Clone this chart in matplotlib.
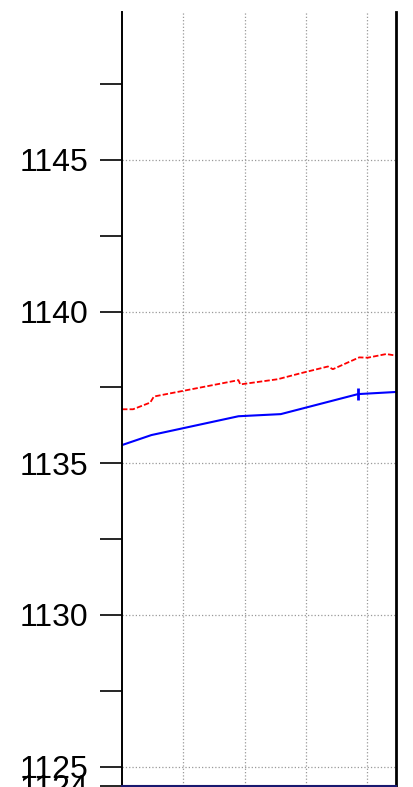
import numpy as np
import matplotlib.pyplot as plt

plt.rcParams['font.family'] = ['Liberation Sans', 'DejaVu Sans']

# data
blue_x = [0.0, 0.48, 1.90, 2.59, 3.85, 4.47]
blue_y = [1135.60, 1135.93, 1136.55, 1136.62, 1137.28, 1137.35]
marker_x = [3.85]
marker_y = [1137.28]

red_x = [0.0, 0.18, 0.46, 0.52, 1.90, 1.93, 2.54, 2.92, 3.36, 3.44, 3.87, 4.01, 4.31, 4.47]
red_y = [1136.78, 1136.78, 1137.00, 1137.20, 1137.74, 1137.60, 1137.77, 1137.97,
         1138.19, 1138.10, 1138.49, 1138.48, 1138.60, 1138.55]

ymin, ymax = 1124.37, 1149.88
major = [1125, 1130, 1135, 1140, 1145]
minor = [1127.5, 1132.5, 1137.5, 1142.5, 1147.5]

fig = plt.figure(figsize=(4.14, 7.87), dpi=100)
ax = fig.add_axes([122/414, 1.2/787, (396-122)/414, (786-12)/787])

ax.plot(red_x, red_y, color='red', lw=1.3, dashes=(3, 1.2))
ax.plot(blue_x, blue_y, color='blue', lw=1.5)
ax.plot(marker_x, marker_y, marker='|', color='blue', ms=9, mew=2)

ax.set_xlim(0, 4.47)
ax.set_ylim(ymin, ymax)
ax.set_xticks([1, 2, 3, 4])
ax.tick_params(axis='x', length=0, labelbottom=False)

ax.set_yticks(major + [ymin])
ax.set_yticklabels([str(v) for v in major] + ['1124'])
ax.set_yticks(minor, minor=True)
ax.tick_params(axis='y', which='both', length=16, width=1.2, pad=8, labelsize=23)

ax.grid(True, which='major', color='#999999', ls=':', lw=0.9)

ax.spines['top'].set_visible(False)
ax.spines['left'].set_linewidth(1.4)
ax.spines['right'].set_linewidth(2)
ax.spines['bottom'].set_color('midnightblue')
ax.spines['bottom'].set_linewidth(1.5)

fig.savefig('out.png', dpi=100)
